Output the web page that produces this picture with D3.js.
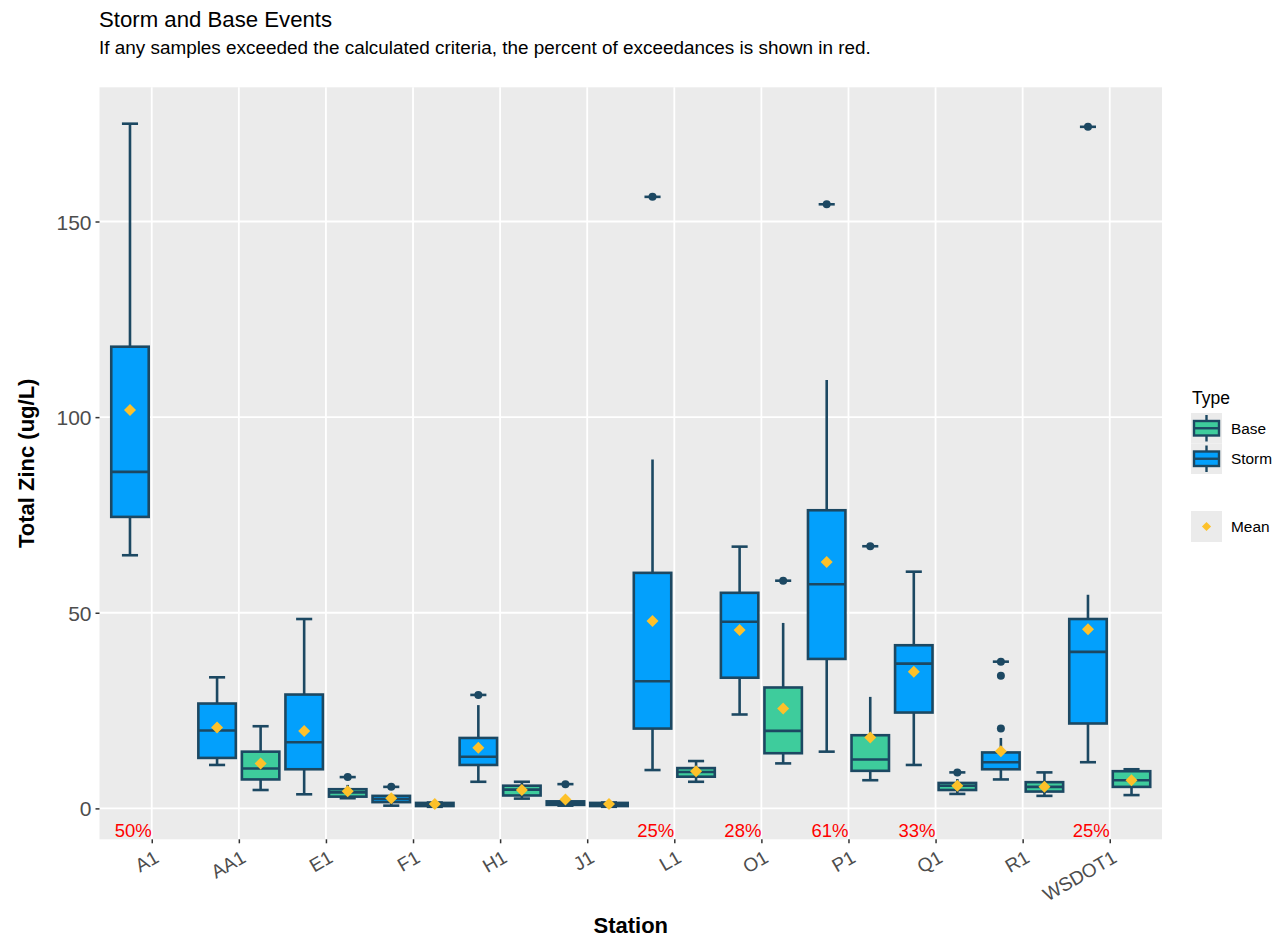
<!DOCTYPE html>
<html>
<head>
<meta charset="utf-8">
<script src="https://cdn.jsdelivr.net/npm/d3@7"></script>
<style>
  body { margin: 0; background: #fff; }
  text { font-family: "Liberation Sans", Arial, sans-serif; }
</style>
</head>
<body>
<div id="chart"></div>
<script>

// Stations on the x axis
var stations = ["A1", "AA1", "E1", "F1", "H1", "J1", "L1", "O1", "P1", "Q1", "R1", "WSDOT1"];
var types = ["Base", "Storm"];

// Storm event boxplot stats (ug/L)
var stormLow  = [64.7, 11.1, 3.6, 0.7, 6.8, 0.7, 9.8, 24.0, 14.5, 11.1, 7.4, 11.8];
var stormQ1   = [74.5, 12.9, 10.0, 1.6, 11.1, 0.9, 20.4, 33.4, 38.2, 24.5, 10.0, 21.7];
var stormMed  = [86.0, 19.9, 16.9, 2.4, 13.2, 1.3, 32.5, 47.7, 57.3, 37.0, 11.8, 40.0];
var stormQ3   = [118.0, 26.8, 29.1, 3.2, 18.0, 1.8, 60.2, 55.1, 76.2, 41.7, 14.3, 48.4];
var stormHigh = [175.0, 33.5, 48.4, 3.6, 26.4, 2.0, 89.2, 66.9, 109.5, 60.5, 18.0, 54.6];
var stormMean = [101.8, 20.7, 19.8, 2.6, 15.5, 2.3, 47.9, 45.6, 63.0, 34.9, 14.6, 45.8];
var stormOut  = [[], [], [], [5.5], [29.0], [6.2], [156.3], [], [154.4], [], [37.5, 33.9, 20.4], [174.2]];

// Base event boxplot stats (A1 has no base samples)
var baseLow  = [null, 4.7, 2.6, 0.4, 2.5, 0.4, 6.8, 11.5, 7.2, 3.7, 3.2, 3.4];
var baseQ1   = [null, 7.4, 3.0, 0.6, 3.3, 0.6, 8.1, 14.1, 9.6, 4.7, 4.3, 5.5];
var baseMed  = [null, 10.2, 4.1, 1.0, 4.8, 1.0, 9.3, 19.8, 12.5, 5.8, 5.5, 7.2];
var baseQ3   = [null, 14.5, 4.9, 1.4, 5.8, 1.4, 10.3, 30.9, 18.7, 6.5, 6.7, 9.5];
var baseHigh = [null, 21.0, 6.0, 1.5, 6.8, 1.5, 12.1, 47.4, 28.5, 7.5, 9.2, 10.0];
var baseMean = [null, 11.5, 4.4, 1.1, 4.7, 1.1, 9.5, 25.5, 18.1, 5.8, 5.5, 7.2];
var baseOut  = [[], [], [8.0], [], [], [], [], [58.2], [67.0], [9.2], [], []];

// Percent of samples exceeding criteria
var exceed = ["50%", "", "", "", "", "", "25%", "28%", "61%", "33%", "", "25%"];

var yTicks = [0, 50, 100, 150];

//Sizes
var width = 1283, height = 940;
var panel = {left: 99.5, right: 1162, top: 87.3, bottom: 839.3};

var colors = {Base: "#3ECC9C", Storm: "#03A0FC"};
var outline = "#1C4862";
var meanColor = "#FDC12A";

//Build one row per box
var boxes = [];
stations.forEach(function(s, i) {
    if (stormMed[i] != null) boxes.push({station: s, type: "Storm", low: stormLow[i], q1: stormQ1[i], med: stormMed[i], q3: stormQ3[i], high: stormHigh[i], mean: stormMean[i], out: stormOut[i]});
    if (baseMed[i] != null) boxes.push({station: s, type: "Base", low: baseLow[i], q1: baseQ1[i], med: baseMed[i], q3: baseQ3[i], high: baseHigh[i], mean: baseMean[i], out: baseOut[i]});
});

var svg = d3.select("#chart").append("svg")
    .attr("width", width)
    .attr("height", height);

svg.append("rect").attr("width", width).attr("height", height).attr("fill", "#fff");

//Scales
var x = d3.scalePoint()
    .domain(stations)
    .range([panel.left, panel.right])
    .padding(0.6);
var step = x.step();

var dodge = d3.scalePoint()
    .domain(["Storm", "Base"])
    .range([-0.25 * step, 0.25 * step]);

var y = d3.scaleLinear()
    .domain([-7.9, 184.3])
    .range([panel.bottom, panel.top]);

var boxW = 0.43 * step, capW = 0.185 * step;

//Panel background and grid
svg.append("rect")
    .attr("x", panel.left).attr("y", panel.top)
    .attr("width", panel.right - panel.left)
    .attr("height", panel.bottom - panel.top)
    .attr("fill", "#EBEBEB");

var grid = svg.append("g").attr("class", "grid");
grid.selectAll("line.h")
    .data(yTicks)
    .enter().append("line")
        .attr("x1", panel.left).attr("x2", panel.right)
        .attr("y1", d => y(d)).attr("y2", d => y(d))
        .attr("stroke", "#fff").attr("stroke-width", 1.8);
grid.selectAll("line.v")
    .data(stations)
    .enter().append("line")
        .attr("x1", d => x(d)).attr("x2", d => x(d))
        .attr("y1", panel.top).attr("y2", panel.bottom)
        .attr("stroke", "#fff").attr("stroke-width", 1.8);

//Boxplots
var g = svg.append("g").attr("class", "boxes");
var bx = d => x(d.station) + dodge(d.type);

g.selectAll("line.whisker")
    .data(boxes)
    .enter().append("line")
        .attr("x1", bx).attr("x2", bx)
        .attr("y1", d => y(d.low)).attr("y2", d => y(d.high))
        .attr("stroke", outline).attr("stroke-width", 2.6);

//caps at the data extremes
g.selectAll("line.capTop")
    .data(boxes)
    .enter().append("line")
        .attr("x1", d => bx(d) - capW / 2).attr("x2", d => bx(d) + capW / 2)
        .attr("y1", d => y(d3.max(d.out.concat([d.high])))).attr("y2", d => y(d3.max(d.out.concat([d.high]))))
        .attr("stroke", outline).attr("stroke-width", 2.6);

g.selectAll("line.capBottom")
    .data(boxes)
    .enter().append("line")
        .attr("x1", d => bx(d) - capW / 2).attr("x2", d => bx(d) + capW / 2)
        .attr("y1", d => y(d.low)).attr("y2", d => y(d.low))
        .attr("stroke", outline).attr("stroke-width", 2.6);

g.selectAll("rect")
    .data(boxes)
    .enter().append("rect")
        .attr("x", d => bx(d) - boxW / 2)
        .attr("y", d => y(d.q3))
        .attr("width", boxW)
        .attr("height", d => y(d.q1) - y(d.q3))
        .attr("fill", d => colors[d.type])
        .attr("stroke", outline).attr("stroke-width", 2.6);

g.selectAll("line.median")
    .data(boxes)
    .enter().append("line")
        .attr("x1", d => bx(d) - boxW / 2).attr("x2", d => bx(d) + boxW / 2)
        .attr("y1", d => y(d.med)).attr("y2", d => y(d.med))
        .attr("stroke", outline).attr("stroke-width", 2.6);

var outliers = [];
boxes.forEach(d => d.out.forEach(v => outliers.push({station: d.station, type: d.type, value: v})));

g.selectAll("circle")
    .data(outliers)
    .enter().append("circle")
        .attr("cx", bx)
        .attr("cy", d => y(d.value))
        .attr("r", 4)
        .attr("fill", outline);

var diamond = d3.symbol().type(d3.symbolSquare).size(72);
g.selectAll("path.mean")
    .data(boxes)
    .enter().append("path")
        .attr("d", diamond)
        .attr("transform", d => "translate(" + bx(d) + "," + y(d.mean) + ") rotate(45)")
        .attr("fill", meanColor);

//Exceedance labels
svg.append("g").selectAll("text")
    .data(stations.map((s, i) => ({station: s, label: exceed[i]})).filter(d => d.label))
    .enter().append("text")
        .attr("x", d => x(d.station))
        .attr("y", y(-7.4))
        .attr("text-anchor", "end")
        .attr("fill", "#FF0000")
        .style("font-size", "18.5px")
        .text(d => d.label);

//Axes
var yAxis = svg.append("g")
    .attr("transform", "translate(" + panel.left + ",0)")
    .call(d3.axisLeft(y).tickValues(yTicks).tickSize(4).tickPadding(4));
yAxis.select(".domain").remove();
yAxis.selectAll("line").attr("stroke", "#333").attr("stroke-width", 1.5);
yAxis.selectAll("text").attr("fill", "#4D4D4D").style("font-size", "21px").attr("dy", "0.36em");

var xAxis = svg.append("g")
    .attr("transform", "translate(0," + panel.bottom + ")")
    .call(d3.axisBottom(x).tickSize(4));
xAxis.select(".domain").remove();
xAxis.selectAll("line").attr("stroke", "#333").attr("stroke-width", 1.5);
xAxis.selectAll("text")
    .attr("fill", "#4D4D4D")
    .style("font-size", "19px")
    .attr("text-anchor", "end")
    .attr("x", 0).attr("y", 0).attr("dy", "0.72em")
    .attr("transform", "translate(1,10) rotate(-30)");

//Titles
svg.append("text")
    .attr("x", 99).attr("y", 27)
    .style("font-size", "22.2px")
    .text("Storm and Base Events");

svg.append("text")
    .attr("x", 99).attr("y", 54)
    .style("font-size", "18.9px")
    .text("If any samples exceeded the calculated criteria, the percent of exceedances is shown in red.");

svg.append("text")
    .attr("x", (panel.left + panel.right) / 2).attr("y", 933)
    .attr("text-anchor", "middle")
    .style("font-size", "22px").style("font-weight", "bold")
    .text("Station");

svg.append("text")
    .attr("transform", "translate(34," + (panel.top + panel.bottom) / 2 + ") rotate(-90)")
    .attr("text-anchor", "middle")
    .style("font-size", "22px").style("font-weight", "bold")
    .text("Total Zinc (ug/L)");

//Legend
var legend = svg.append("g").attr("transform", "translate(1191,0)");
legend.append("text")
    .attr("x", 1).attr("y", 404)
    .style("font-size", "17.5px")
    .text("Type");

var keys = legend.selectAll("g.key")
    .data(types)
    .enter().append("g")
        .attr("transform", (d, i) => "translate(0," + (413 + i * 30.5) + ")");

keys.append("rect").attr("width", 31).attr("height", 30.5).attr("fill", "#EBEBEB");
keys.append("line")
    .attr("x1", 15.5).attr("x2", 15.5).attr("y1", 2).attr("y2", 28.5)
    .attr("stroke", outline).attr("stroke-width", 2.4);
keys.append("rect")
    .attr("x", 3).attr("y", 8).attr("width", 25).attr("height", 14.5)
    .attr("fill", d => colors[d]).attr("stroke", outline).attr("stroke-width", 2.4);
keys.append("line")
    .attr("x1", 3).attr("x2", 28).attr("y1", 15.25).attr("y2", 15.25)
    .attr("stroke", outline).attr("stroke-width", 2.4);
keys.append("text")
    .attr("x", 40).attr("y", 15.25).attr("dy", "0.36em")
    .style("font-size", "15.4px")
    .text(d => d);

var meanKey = legend.append("g").attr("transform", "translate(0,511)");
meanKey.append("rect").attr("width", 31).attr("height", 31).attr("fill", "#EBEBEB");
meanKey.append("path")
    .attr("d", d3.symbol().type(d3.symbolSquare).size(42))
    .attr("transform", "translate(15.5,15.5) rotate(45)")
    .attr("fill", meanColor);
meanKey.append("text")
    .attr("x", 40).attr("y", 15.5).attr("dy", "0.36em")
    .style("font-size", "15.4px")
    .text("Mean");

</script>
</body>
</html>
